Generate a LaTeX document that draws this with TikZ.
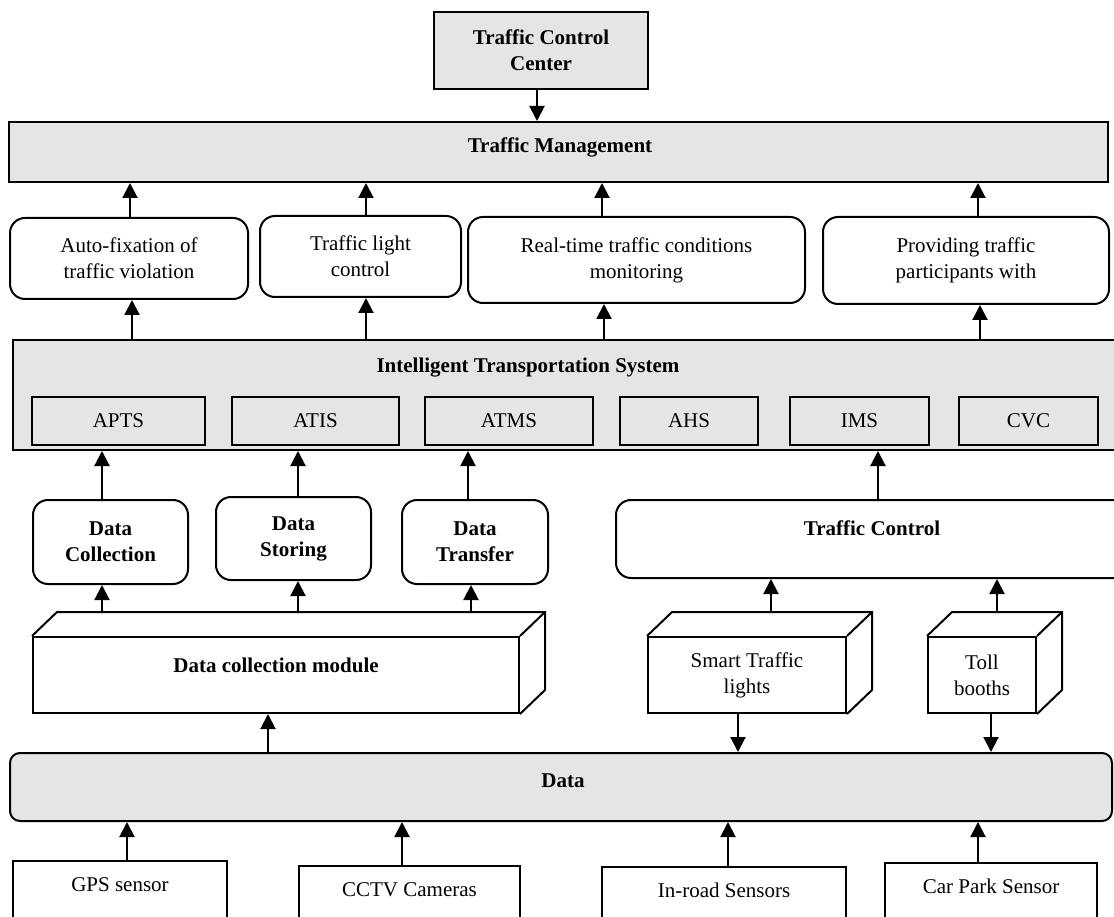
\documentclass[tikz,border=0pt]{standalone}
\usepackage{fontspec}
\setmainfont{Liberation Serif}
\usetikzlibrary{arrows.meta,calc}
\definecolor{boxgray}{HTML}{E5E5E5}
\begin{document}
\begin{tikzpicture}[x=1pt,y=-1pt,
  font=\fontsize{21}{26}\selectfont,
  bf/.style={font=\fontsize{21}{26}\selectfont\bfseries},
  box/.style={draw, line width=2pt, inner sep=0pt, align=center},
  gbox/.style={box, fill=boxgray},
  rbox/.style={box, rounded corners=15pt},
  botbox/.style={box, anchor=north, text height=30pt, text depth=52pt},
  arr/.style={line width=2pt, -{Triangle[width=15pt,length=15pt]}},
  cube/.style={line width=2pt, line join=miter}]
\useasboundingbox (0,0) rectangle (1114,917);
\clip (0,0) rectangle (1114,917);

% x positions of connectors
\foreach \v in {102,120,127,130,132,268,298,366,402,468,471,537,602,604,728,738,771,878,978,980,991,997}
  \coordinate (x\v) at (\v,0);

% top
\node[gbox, bf, minimum width=214pt, minimum height=77pt] (tcc) at (541,50.5) {Traffic Control\\Center};
\node[gbox, minimum width=1099pt, minimum height=60pt] (tm) at (558.5,152) {};
\node[bf, anchor=base] (tmt) at (560,153) {Traffic Management};

% functions row
\node[rbox, minimum width=238pt, minimum height=81pt] (a1) at (129,258.5) {Auto-fixation of\\traffic violation};
\node[rbox, minimum width=201pt, minimum height=81pt] (a2) at (360.5,256.5) {Traffic light\\control};
\node[rbox, minimum width=337pt, minimum height=86pt] (a3) at (636.5,260) {Real-time traffic conditions\\monitoring};
\node[rbox, minimum width=286pt, minimum height=87pt] (a4) at (966,260.5) {Providing traffic\\participants with};

% ITS
\node[gbox, minimum width=1112pt, minimum height=110pt] (its) at (569,395) {};
\node[bf, anchor=base] (itst) at (528,372) {Intelligent Transportation System};
\node[gbox, minimum width=173pt, minimum height=48pt] (apts) at (118.5,420.5) {APTS};
\node[gbox, minimum width=167pt, minimum height=48pt] (atis) at (315.5,420.5) {ATIS};
\node[gbox, minimum width=168pt, minimum height=48pt] (atms) at (509,420.5) {ATMS};
\node[gbox, minimum width=138pt, minimum height=48pt] (ahs) at (689,420.5) {AHS};
\node[gbox, minimum width=139pt, minimum height=48pt] (ims) at (859.5,420.5) {IMS};
\node[gbox, minimum width=139pt, minimum height=48pt] (cvc) at (1028.5,420.5) {CVC};

% middle row
\node[rbox, bf, minimum width=155pt, minimum height=84pt] (dc) at (110.5,542) {Data\\Collection};
\node[rbox, bf, minimum width=155pt, minimum height=83pt] (ds) at (293.5,538.5) {Data\\Storing};
\node[rbox, bf, minimum width=146pt, minimum height=84pt] (dt) at (475,542) {Data\\Transfer};
\node[rbox, minimum width=520pt, minimum height=78pt] (tc) at (876,539) {};
\node[bf, anchor=base] (tct) at (872,535) {Traffic Control};

% cubes
\node[box, minimum width=486pt, minimum height=76pt] (dcm) at (276,675) {};
\node[bf, anchor=base] (dcmt) at (276,672) {Data collection module};
\node[box, minimum width=198pt, minimum height=76pt] (st) at (747,675) {Smart Traffic\\lights};
\node[box, minimum width=108pt, minimum height=76pt] (tb) at (982,675) {Toll\\booths};
\foreach \n in {dcm,st,tb}{
  \draw[cube] (\n.north west) -- ++(25,-24) -- ([shift={(25,-24)}]\n.north east)
    -- ([shift={(25,-24)}]\n.south east) -- (\n.south east);
  \draw[cube] (\n.north east) -- ([shift={(25,-24)}]\n.north east);
  \coordinate (\n b) at ([yshift=24pt]\n.north);
}

% data
\node[gbox, rounded corners=10pt, minimum width=1102pt, minimum height=68pt] (data) at (561,787) {};
\node[bf, anchor=base] (datat) at (563,787) {Data};

% sensors
\node[botbox, minimum width=214pt] (gps) at (120,860) {GPS sensor};
\node[botbox, minimum width=221pt] (cctv) at (409.5,865) {CCTV Cameras};
\node[botbox, minimum width=244pt] (inroad) at (724,866) {In-road Sensors};
\node[botbox, minimum width=212pt] (carpark) at (991,862) {Car Park Sensor};

% connectors
\draw[arr] (x537 |- tcc.south) -- (x537 |- tm.north);
\draw[arr] (x130 |- a1.north) -- (x130 |- tm.south);
\draw[arr] (x366 |- a2.north) -- (x366 |- tm.south);
\draw[arr] (x602 |- a3.north) -- (x602 |- tm.south);
\draw[arr] (x978 |- a4.north) -- (x978 |- tm.south);

\draw[arr] (x132 |- its.north) -- (x132 |- a1.south);
\draw[arr] (x366 |- its.north) -- (x366 |- a2.south);
\draw[arr] (x604 |- its.north) -- (x604 |- a3.south);
\draw[arr] (x980 |- its.north) -- (x980 |- a4.south);

\draw[arr] (x102 |- dc.north) -- (x102 |- its.south);
\draw[arr] (x298 |- ds.north) -- (x298 |- its.south);
\draw[arr] (x468 |- dt.north) -- (x468 |- its.south);
\draw[arr] (x878 |- tc.north) -- (x878 |- its.south);

\draw[arr] (x102 |- dcmb) -- (x102 |- dc.south);
\draw[arr] (x298 |- dcmb) -- (x298 |- ds.south);
\draw[arr] (x471 |- dcmb) -- (x471 |- dt.south);
\draw[arr] (x771 |- stb) -- (x771 |- tc.south);
\draw[arr] (x997 |- tbb) -- (x997 |- tc.south);

\draw[arr] (x738 |- st.south) -- (x738 |- data.north);
\draw[arr] (x991 |- tb.south) -- (x991 |- data.north);
\draw[arr] (x268 |- data.north) -- (x268 |- dcm.south);

\draw[arr] (x127 |- gps.north) -- (x127 |- data.south);
\draw[arr] (x402 |- cctv.north) -- (x402 |- data.south);
\draw[arr] (x728 |- inroad.north) -- (x728 |- data.south);
\draw[arr] (x978 |- carpark.north) -- (x978 |- data.south);
\end{tikzpicture}
\end{document}
